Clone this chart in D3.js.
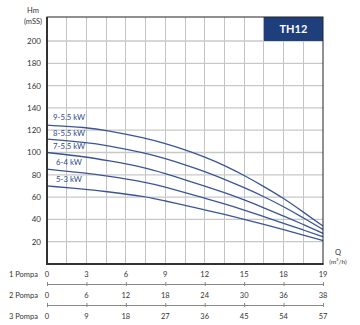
<!DOCTYPE html>
<html><head><meta charset="utf-8">
<script src="https://cdn.jsdelivr.net/npm/d3@7"></script>
<style>body{margin:0;background:#fff}svg{display:block;font-family:Lato,"Liberation Sans",sans-serif}</style>
</head><body><svg id="c" width="360" height="325"></svg>
<script>
// positions along the plot (grid units, 1 Pompa axis spacing); last tick labelled 19
const positions = [0, 3, 4.5, 7.5, 9, 10.5, 12, 13.5, 15, 16.5, 18, 19.5, 21];
const seriesNames = ["9-5.5 kW", "8-5.5 kW", "7-5.5 kW", "6-4 kW", "5-3 kW"];
const s9 = [124.5, 122.5, 120, 113, 108, 102.5, 96, 88.5, 79.5, 69.5, 59, 46.5, 34];
const s8 = [112, 109, 106.5, 99.5, 94.5, 89, 83, 76, 68.5, 60.5, 51.5, 41.5, 31];
const s7 = [100, 96, 93, 86.5, 81, 75.5, 70, 64, 57.5, 50.5, 43, 35.5, 27.5];
const s6 = [85, 81.5, 79, 73.5, 69, 64, 59, 54, 48.5, 42.5, 36.5, 30.5, 24.5];
const s5 = [70, 67, 65, 60.5, 56.5, 52.5, 48.5, 44.5, 40, 35.5, 31, 26, 21];
const tickPos = [0, 3, 6, 9, 12, 15, 18, 21];
const labels1 = ["0", "3", "6", "9", "12", "15", "18", "19"];
const labels2 = ["0", "6", "12", "18", "24", "30", "36", "38"];
const labels3 = ["0", "9", "18", "27", "36", "45", "54", "57"];
const axisNames = ["1 Pompa", "2 Pompa", "3 Pompa"];
const yTicks = [20, 40, 60, 80, 100, 120, 140, 160, 180, 200];
const title = "TH12";

const svg = d3.select("#c");
const L = 47, R = 323, T = 17, B = 264;
const x = d3.scaleLinear().domain([0, 21]).range([L, R]);
const y = d3.scaleLinear().domain([0, 221.5]).range([B, T]);

// grid
const g = svg.append("g");
g.selectAll(".vg").data(d3.range(1.5, 21, 1.5)).join("line")
  .attr("x1", d => x(d)).attr("x2", d => x(d)).attr("y1", T).attr("y2", B)
  .attr("stroke", "#c4c4c4").attr("stroke-width", 1).attr("shape-rendering", "crispEdges");
g.selectAll(".hg").data(yTicks).join("line")
  .attr("x1", L).attr("x2", R).attr("y1", d => y(d)).attr("y2", d => y(d))
  .attr("stroke", "#c8c8c8").attr("stroke-width", 1.3);

// title box
svg.append("rect").attr("x", x(16.5)).attr("y", T).attr("width", R - x(16.5)).attr("height", y(200) - T)
  .attr("fill", "#1f3e7c");
svg.append("text").attr("x", (x(16.5) + R) / 2).attr("y", (T + y(200)) / 2 + 4)
  .attr("text-anchor", "middle").attr("fill", "#fff").attr("font-size", 11).attr("font-weight", "bold").text(title);

// curves
const all = [s9, s8, s7, s6, s5];
const line = d3.line().x((d, i) => x(positions[i])).y(d => y(d)).curve(d3.curveBasis);
svg.selectAll(".crv").data(all).join("path")
  .attr("d", d => line(d)).attr("fill", "none").attr("stroke", "#3a5597").attr("stroke-width", 1.3);

// series labels
const labOffsets = [[6, -5], [6, -3.5], [6, -3.5], [9, -4], [9, -4]];
svg.selectAll(".sl").data(seriesNames).join("text")
  .attr("x", (d, i) => L + labOffsets[i][0]).attr("y", (d, i) => y(all[i][0]) + labOffsets[i][1])
  .attr("font-size", 7.8).attr("fill", "#2f4a8c").text(d => d);

// frame
svg.append("rect").attr("x", L).attr("y", T).attr("width", R - L).attr("height", B - T)
  .attr("fill", "none").attr("stroke", "#222").attr("stroke-width", 1);
svg.append("line").attr("x1", L).attr("x2", L).attr("y1", T).attr("y2", B + 1).attr("stroke", "#333").attr("stroke-width", 2);
svg.append("line").attr("x1", L - 1).attr("x2", R + 0.5).attr("y1", B).attr("y2", B).attr("stroke", "#333").attr("stroke-width", 2);

// y labels
svg.selectAll(".yl").data(yTicks).join("text")
  .attr("x", 41).attr("y", d => y(d) + 3).attr("text-anchor", "end")
  .attr("font-size", 8).attr("fill", "#333").text(d => d);
svg.append("text").attr("x", 33).attr("y", 13).attr("text-anchor", "middle").attr("font-size", 7.5).attr("fill", "#333").text("Hm");
svg.append("text").attr("x", 33).attr("y", 24).attr("text-anchor", "middle").attr("font-size", 7.5).attr("fill", "#333").text("(mSS)");

// Q label
svg.append("text").attr("x", 338).attr("y", 255).attr("text-anchor", "middle").attr("font-size", 7.5).attr("fill", "#333").text("Q");
svg.append("text").attr("x", 338).attr("y", 264).attr("text-anchor", "middle").attr("font-size", 6.5).attr("fill", "#333").text("(m³/h)");

// pump axes
const rows = [labels1, labels2, labels3];
const rowY = [277, 298, 319];
rows.forEach((labs, r) => {
  svg.append("text").attr("x", 9).attr("y", rowY[r]).attr("font-size", 7.5).attr("fill", "#333").text(axisNames[r]);
  svg.selectAll(".r" + r).data(tickPos).join("text")
    .attr("x", d => x(d)).attr("y", rowY[r]).attr("text-anchor", "middle")
    .attr("font-size", 7.5).attr("fill", "#333").text((d, i) => labs[i]);
  if (r > 0) {
    const ly = rowY[r] - 14;
    const ax = d3.axisBottom(x).tickValues(tickPos).tickSize(0).tickFormat("");
    const ag = svg.append("g").attr("transform", `translate(0,${ly})`).call(ax);
    ag.select(".domain").attr("stroke", "#888");
    ag.selectAll(".tick line").attr("stroke", "#888").attr("y1", -2).attr("y2", 2);
  }
});
</script></body></html>
